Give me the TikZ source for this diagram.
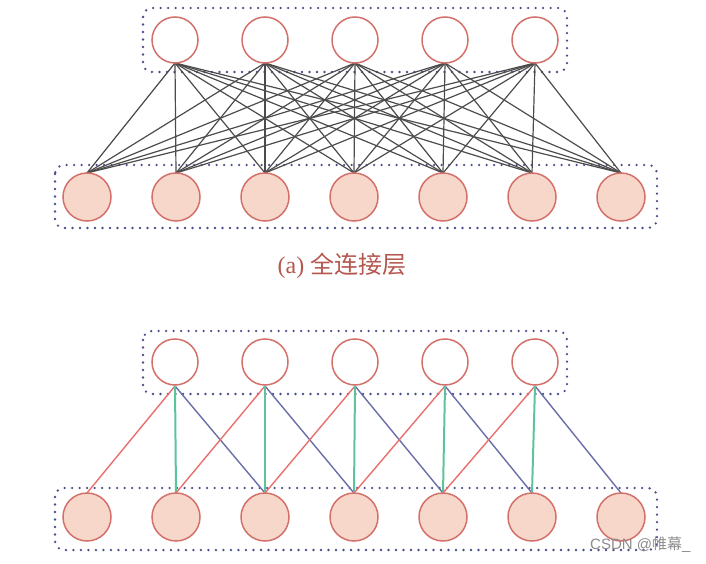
\documentclass[tikz,border=0pt]{standalone}
\usepackage{fontspec}
\newfontfamily\cjk{Noto Sans CJK SC}
\newfontfamily\wmfont{Liberation Sans}
\setmainfont{Liberation Serif}
\definecolor{cstroke}{HTML}{D4706A}
\definecolor{cfill}{HTML}{F8D7CB}
\definecolor{dotc}{HTML}{4A4E8C}
\definecolor{redl}{HTML}{E8706E}
\definecolor{greenl}{HTML}{5CC49A}
\definecolor{bluel}{HTML}{6A6EA8}
\definecolor{labc}{HTML}{B5574F}
\begin{document}
\begin{tikzpicture}[x=1pt,y=-1pt,
  topn/.style={circle,draw=cstroke,line width=1.5pt,minimum size=46pt,inner sep=0pt,fill=white},
  botn/.style={circle,draw=cstroke,line width=1.5pt,minimum size=48pt,inner sep=0pt,fill=cfill},
  grp/.style={draw=dotc,line width=2.6pt,line cap=round,dash pattern=on 0pt off 7.5pt,rounded corners=9pt},
  full/.style={draw=black!70,line width=1.2pt},
  rl/.style={draw=redl,line width=1.4pt},
  gl/.style={draw=greenl,line width=2pt},
  bl/.style={draw=bluel,line width=1.4pt}]
\useasboundingbox (0,0) rectangle (706,564);
\draw[grp] (143,8) rectangle (567,72);
\draw[grp] (55,165) rectangle (657,228);
\draw[grp] (143,331) rectangle (567,394);
\draw[grp] (55,488) rectangle (657,550);
\foreach \i/\x in {1/175,2/265,3/355,4/445,5/535}{
  \coordinate (ta\i) at (\x,63);
  \coordinate (tb\i) at (\x,386);
}
\foreach \j/\x in {1/87,2/176,3/265,4/354,5/443,6/532,7/621}{
  \coordinate (ba\j) at (\x,173);
  \coordinate (bb\j) at (\x,493);
}
\foreach \i in {1,...,5}\foreach \j in {1,...,7}{\draw[full] (ta\i) -- (ba\j);}
\foreach \i in {1,...,5}{
  \pgfmathtruncatemacro\a{\i}\pgfmathtruncatemacro\b{\i+1}\pgfmathtruncatemacro\c{\i+2}
  \draw[rl] (tb\i) -- (bb\a);
  \draw[bl] (tb\i) -- (bb\c);
  \draw[gl] (tb\i) -- (bb\b);
}
\foreach \i/\x in {1/175,2/265,3/355,4/445,5/535}{
  \node[topn] (t\i) at (\x,40) {};
  \node[topn] (u\i) at (\x,362) {};
}
\foreach \j/\x in {1/87,2/176,3/265,4/354,5/443,6/532,7/621}{
  \node[botn] (b\j) at (\x,197) {};
  \node[botn] (c\j) at (\x,517) {};
}
\node[text=labc,font=\fontsize{24pt}{26pt}\selectfont] (lab) at (342,266) {(a) {\cjk 全连接层}};
\node[text=black!45,font=\wmfont\fontsize{15pt}{17pt}\selectfont,anchor=east] (wm) at (694,545) {CSDN @{\cjk 帷幕}\_};
\end{tikzpicture}
\end{document}
